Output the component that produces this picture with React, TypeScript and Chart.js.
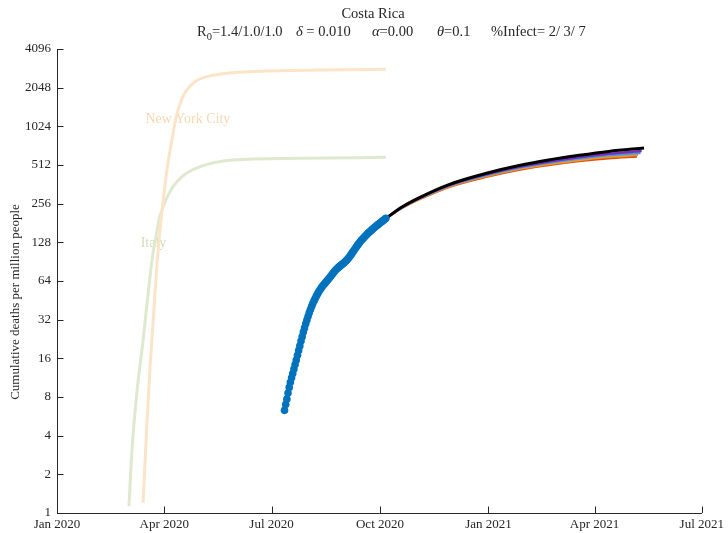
import React, { useEffect, useRef } from "react";
import { Chart, registerables } from "chart.js";

Chart.register(...registerables);

// ---------- data ----------
const tickDates = ["2020-01-01", "2020-04-01", "2020-07-01", "2020-10-01", "2021-01-01", "2021-04-01", "2021-07-01"];
const tickLabels = ["Jan 2020", "Apr 2020", "Jul 2020", "Oct 2020", "Jan 2021", "Apr 2021", "Jul 2021"];
const yTicks = [1, 2, 4, 8, 16, 32, 64, 128, 256, 512, 1024, 2048, 4096];

const nycDates = ["2020-03-14", "2020-03-17", "2020-03-20", "2020-03-23", "2020-03-26", "2020-03-29", "2020-04-01", "2020-04-04", "2020-04-08", "2020-04-11", "2020-04-15", "2020-04-19", "2020-04-27", "2020-05-09", "2020-05-29", "2020-06-26", "2020-10-06"];
const nycValues = [1.2, 4.4, 14, 36, 90, 180, 320, 520, 850, 1200, 1590, 1900, 2280, 2520, 2680, 2760, 2845];

const italyDates = ["2020-03-02", "2020-03-05", "2020-03-09", "2020-03-14", "2020-03-18", "2020-03-22", "2020-03-26", "2020-03-28", "2020-04-05", "2020-04-16", "2020-05-01", "2020-05-29", "2020-07-24", "2020-10-06"];
const italyValues = [1.13, 3.5, 9.1, 22, 48, 99, 160, 200, 308, 415, 496, 560, 577, 587];

const crStart = "2020-07-12"; // daily observations from this date
const crDaily = [
  6.3, 7.0, 7.7, 8.6, 9.5, 10.4, 11.3, 12.2, 13.2, 14.3, 15.5, 16.9, 18.4, 20.0, 21.8, 23.6, 25.6, 27.6, 29.7, 31.8,
  34.0, 36.2, 38.4, 40.6, 42.7, 44.8, 46.8, 48.8, 50.8, 52.7, 54.5, 56.2, 57.9, 59.5, 61.0, 62.6, 64.2, 65.8, 67.5, 69.3,
  71.2, 73.2, 75.3, 77.2, 78.9, 80.5, 82.0, 83.5, 85.0, 86.5, 88.0,
  89.6, 91.4, 93.4, 95.7, 98.4, 101.3, 104.5, 107.8, 111.2, 114.6, 118.1, 121.7, 125.3, 128.7, 132.0, 135.2, 138.4, 141.6,
  144.8, 148.0, 151.0, 154.0, 157.0, 160.0, 163.0, 166.0, 169.0, 172.0, 175.0, 178.0,
  181.0, 184.0, 187.2, 190.4, 193.6, 197.0,
];

const projDates = ["2020-10-06", "2020-10-20", "2020-11-03", "2020-11-29", "2021-01-01", "2021-01-27", "2021-02-21", "2021-03-19", "2021-04-13"];
const projEndDates = ["2021-05-13", "2021-05-11", "2021-05-10", "2021-05-08", "2021-05-07"];
const projBlack = [197, 242, 284, 362, 446, 508, 560, 609, 653, 694];
const projPurple = [197, 241, 282, 357, 437, 495, 543, 588, 626, 657];
const projBlue = [197, 240, 280, 354, 431, 487, 533, 575, 610, 636];
const projOrange = [197, 239, 278, 350, 424, 478, 521, 561, 593, 614];
const projRed = [197, 238, 276, 347, 418, 470, 511, 549, 578, 596];

const titleLine1 = "Costa Rica";
const yTitle = "Cumulative deaths per million people";
const nycLabel = { text: "New York City", date: "2020-03-16", value: 1166 };
const italyLabel = { text: "Italy", date: "2020-03-12", value: 125 };

// ---------- helpers ----------
const T0 = Date.parse("2020-01-01T00:00:00Z");
const day = (s: string) => (Date.parse(s + "T00:00:00Z") - T0) / 86400000;
const xyFrom = (dates: string[], values: number[]) => values.map((v, i) => ({ x: day(dates[i]), y: v }));
const proj = (vals: number[], k: number) => vals.map((v, i) => ({ x: day(i < projDates.length ? projDates[i] : projEndDates[k]), y: v }));

const FONT = '"Liberation Serif", "Times New Roman", serif';
const AX = "#262626";

type Seg = { t: string; sub?: boolean; it?: boolean };
// title line 2, in groups each starting at a measured x position
const titleGroups: { x: number; segs: Seg[] }[] = [
  { x: 197, segs: [{ t: "R" }, { t: "0", sub: true }, { t: "=1.4/1.0/1.0" }] },
  { x: 296, segs: [{ t: "δ", it: true }, { t: " = 0.010" }] },
  { x: 372, segs: [{ t: "α", it: true }, { t: "=0.00" }] },
  { x: 437, segs: [{ t: "θ", it: true }, { t: "=0.1" }] },
  { x: 491, segs: [{ t: "%Infect= 2/ 3/ 7" }] },
];

const decor = {
  id: "decor",
  beforeDatasetsDraw(chart: any) {
    const { ctx, scales } = chart;
    ctx.save();
    ctx.font = `14px ${FONT}`;
    ctx.textAlign = "left";
    ctx.textBaseline = "middle";
    ctx.fillStyle = "#f9d7b0";
    ctx.fillText(nycLabel.text, scales.x.getPixelForValue(day(nycLabel.date)), scales.y.getPixelForValue(nycLabel.value));
    ctx.fillStyle = "#cfdfb8";
    ctx.fillText(italyLabel.text, scales.x.getPixelForValue(day(italyLabel.date)), scales.y.getPixelForValue(italyLabel.value));
    ctx.restore();
  },
  afterDraw(chart: any) {
    const { ctx, chartArea, scales } = chart;
    const { left, bottom } = chartArea;
    ctx.save();
    // inward ticks
    ctx.strokeStyle = AX;
    ctx.lineWidth = 1;
    ctx.beginPath();
    for (const t of scales.y.ticks) {
      const py = Math.round(scales.y.getPixelForValue(t.value)) + 0.5;
      ctx.moveTo(left, py);
      ctx.lineTo(left + 6.5, py);
    }
    for (const t of scales.x.ticks) {
      const px = Math.round(scales.x.getPixelForValue(t.value)) + 0.5;
      ctx.moveTo(px, bottom);
      ctx.lineTo(px, bottom - 6.5);
    }
    ctx.stroke();

    // y-axis title
    ctx.fillStyle = AX;
    ctx.font = `13px ${FONT}`;
    ctx.save();
    ctx.translate(16, 302);
    ctx.rotate(-Math.PI / 2);
    ctx.textAlign = "center";
    ctx.textBaseline = "middle";
    ctx.fillText(yTitle, 0, 0);
    ctx.restore();

    // title line 1
    ctx.textAlign = "center";
    ctx.textBaseline = "alphabetic";
    ctx.font = `14.5px ${FONT}`;
    ctx.fillText(titleLine1, 373, 18);

    // title line 2 with subscript and italic greek
    const fontFor = (s: Seg) => (s.sub ? `10.5px ${FONT}` : s.it ? `italic 14.5px ${FONT}` : `14.5px ${FONT}`);
    ctx.textAlign = "left";
    for (const g of titleGroups) {
      let x = g.x;
      for (const s of g.segs) {
        ctx.font = fontFor(s);
        ctx.fillText(s.t, x, s.sub ? 40 : 36);
        x += ctx.measureText(s.t).width;
      }
    }
    ctx.restore();
  },
};

export default function App() {
  const ref = useRef<HTMLCanvasElement | null>(null);
  useEffect(() => {
    if (!ref.current) return;
    const lineDs = (label: string, data: any[], color: string, width: number, order: number) => ({
      label, data, borderColor: color, backgroundColor: color, borderWidth: width,
      pointRadius: 0, fill: false, cubicInterpolationMode: "monotone" as const, order,
    });
    const chart = new Chart(ref.current, {
      type: "line",
      data: {
        datasets: [
          {
            label: "Costa Rica data",
            data: crDaily.map((v, i) => ({ x: day(crStart) + i, y: v })),
            showLine: false,
            pointRadius: 3.8,
            pointBorderWidth: 0,
            pointBackgroundColor: "#0072bd",
            borderColor: "#0072bd",
            order: 0,
          },
          lineDs("model 1", proj(projBlack, 0), "#000000", 3, 1),
          lineDs("model 2", proj(projPurple, 1), "#7b2cbf", 2.5, 2),
          lineDs("model 3", proj(projBlue, 2), "#3f9fe0", 2.5, 3),
          lineDs("model 4", proj(projOrange, 3), "#f39a1f", 2.5, 4),
          lineDs("model 5", proj(projRed, 4), "#d95319", 2.5, 5),
          lineDs("New York City", xyFrom(nycDates, nycValues), "#fde4c8", 3, 6),
          lineDs("Italy", xyFrom(italyDates, italyValues), "#dfe9cf", 3, 7),
        ] as any,
      },
      options: {
        responsive: false,
        animation: false,
        devicePixelRatio: 1,
        events: [],
        layout: { padding: { top: 49, right: 25, left: 0, bottom: 0 } },
        plugins: { legend: { display: false }, tooltip: { enabled: false }, title: { display: false } },
        scales: {
          x: {
            type: "linear",
            min: day(tickDates[0]),
            max: day(tickDates[tickDates.length - 1]),
            afterBuildTicks: (s: any) => { s.ticks = tickDates.map((d) => ({ value: day(d) })); },
            afterFit: (s: any) => { s.height = 20; },
            ticks: {
              autoSkip: false, maxRotation: 0, padding: 4, color: AX,
              font: { family: FONT, size: 13 },
              callback: (v: any) => { const i = tickDates.findIndex((d) => day(d) === v); return i >= 0 ? tickLabels[i] : ""; },
            },
            grid: { display: false, drawTicks: false },
            border: { display: true, color: AX, width: 1 },
          },
          y: {
            type: "logarithmic",
            min: yTicks[0],
            max: yTicks[yTicks.length - 1],
            afterBuildTicks: (s: any) => { s.ticks = yTicks.map((v) => ({ value: v })); },
            afterFit: (s: any) => { s.width = 57; },
            ticks: {
              autoSkip: false, padding: 6, color: AX,
              font: { family: FONT, size: 13 },
              callback: (v: any) => String(v),
            },
            grid: { display: false, drawTicks: false },
            border: { display: true, color: AX, width: 1 },
          },
        },
      },
      plugins: [decor],
    });
    return () => chart.destroy();
  }, []);
  return (
    <div style={{ position: "fixed", left: 0, top: 0, width: 728, height: 533, background: "#fff" }}>
      <canvas ref={ref} width={728} height={533} style={{ display: "block", width: 728, height: 533 }} />
    </div>
  );
}
